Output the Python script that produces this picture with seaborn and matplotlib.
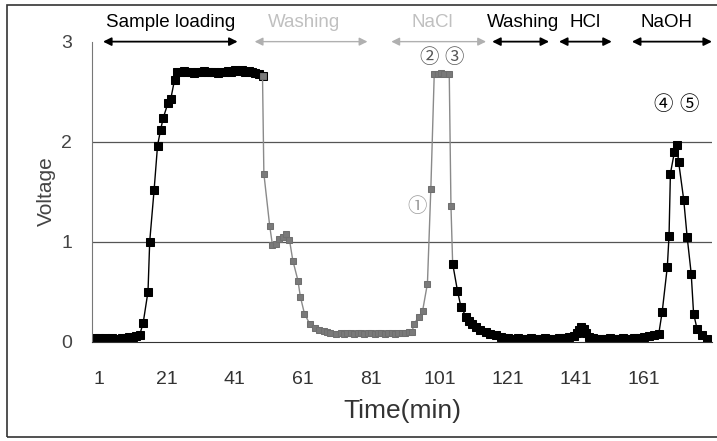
import matplotlib
matplotlib.use("Agg")
import matplotlib.pyplot as plt
import seaborn as sns
from matplotlib.patches import Rectangle

# sample loading (black)
time_load = [0, 1, 2, 3, 4, 5, 6, 7, 8, 9, 10, 11, 12, 13.1, 14.1, 15.5, 16.0, 17.3, 18.3, 19.2, 20.0,
             21.4, 22.2, 23.3, 24, 25, 26, 27, 28, 29, 30, 31, 32, 33, 34, 35, 36, 37, 38, 39, 40,
             41, 42, 43, 44, 45, 46, 47, 48, 49.1]
volt_load = [0.04, 0.04, 0.03, 0.04, 0.03, 0.04, 0.03, 0.03, 0.04, 0.04, 0.05, 0.05, 0.06, 0.07, 0.19,
             0.50, 1.00, 1.52, 1.96, 2.12, 2.24, 2.39, 2.43, 2.62, 2.70, 2.70, 2.71, 2.70, 2.70, 2.69,
             2.70, 2.70, 2.71, 2.70, 2.70, 2.70, 2.69, 2.70, 2.70, 2.71, 2.70, 2.72, 2.71, 2.72, 2.70,
             2.71, 2.70, 2.69, 2.68, 2.66]

# washing + NaCl (faded grey in the scan)
time_wash = [49.1, 49.5, 51.2, 52.0, 53.0, 54.0, 55.0, 56.0, 57.0, 58.0, 59.5, 60.2, 61.4, 62.9, 64.4,
             65.8, 67, 68, 69, 70.7, 72, 73, 74, 75, 76, 77, 78, 79, 80, 81, 82, 83, 84, 85, 86, 87,
             88, 89, 90, 91, 92, 93.0, 93.6, 95.1, 96.1, 97.5, 98.5, 99.5, 100.5, 101.5, 102.5,
             103.9, 104.4, 104.9]
volt_wash = [2.66, 1.68, 1.16, 0.97, 0.98, 1.03, 1.05, 1.08, 1.02, 0.81, 0.61, 0.45, 0.28, 0.18, 0.14,
             0.12, 0.11, 0.10, 0.09, 0.08, 0.09, 0.08, 0.09, 0.09, 0.08, 0.09, 0.09, 0.08, 0.09, 0.09,
             0.08, 0.09, 0.09, 0.08, 0.09, 0.09, 0.08, 0.09, 0.09, 0.09, 0.10, 0.10, 0.18, 0.25, 0.31,
             0.58, 1.53, 2.68, 2.68, 2.69, 2.68, 2.68, 1.36, 0.78]

# after NaCl: washing, HCl, NaOH (black)
time_elute = [104.9, 106.3, 107.3, 108.8, 109.8, 110.7, 111.7, 113, 114.6, 116, 117.5, 119, 120, 121,
              122, 123, 124, 125, 126, 127, 128, 129, 130, 131, 132, 133, 134, 135, 136, 137, 138,
              139, 140.5, 141.3, 142.0, 142.6, 143.3, 144.0, 145.0, 146, 147, 148, 149, 150, 151, 152,
              153, 154, 155, 156, 157, 158, 159, 160, 161, 162.5, 164, 165.4, 166.4, 167.9, 168.4,
              168.8, 170.0, 170.7, 171.2, 172.7, 173.7, 174.9, 175.6, 176.6, 178.1, 179.5]
volt_elute = [0.78, 0.51, 0.35, 0.25, 0.21, 0.18, 0.15, 0.12, 0.10, 0.08, 0.065, 0.05, 0.04, 0.04,
              0.03, 0.03, 0.04, 0.03, 0.03, 0.03, 0.04, 0.03, 0.03, 0.03, 0.04, 0.03, 0.03, 0.03,
              0.04, 0.04, 0.04, 0.05, 0.06, 0.09, 0.12, 0.15, 0.13, 0.09, 0.05, 0.04, 0.03, 0.03,
              0.03, 0.03, 0.04, 0.03, 0.03, 0.03, 0.04, 0.03, 0.03, 0.04, 0.04, 0.04, 0.05, 0.06,
              0.07, 0.08, 0.30, 0.75, 1.06, 1.68, 1.90, 1.97, 1.80, 1.42, 1.05, 0.68, 0.28, 0.13,
              0.065, 0.03]

xtick_pos = [1, 21, 41, 61, 81, 101, 121, 141, 161]

# stage labels along the top: (name, start, end, text centre, faded)
stages = [("Sample loading", 2.3, 41.8, 22.2, False),
          ("Washing", 46.8, 79.9, 61.4, True),
          ("NaCl", 86.9, 114.7, 98.9, True),
          ("Washing", 116.5, 133.2, 125.6, False),
          ("HCl", 136.1, 151.6, 143.7, False),
          ("NaOH", 157.5, 181.0, 167.8, False)]

# circled fraction numbers: (label, time, voltage, colour)
fractions = [("\u2460", 94.5, 1.35, "#999999"),
             ("\u2461", 98.0, 2.84, "#555555"),
             ("\u2462", 105.4, 2.84, "#555555"),
             ("\u2463", 166.6, 2.37, "black"),
             ("\u2464", 174.2, 2.37, "black")]

sns.set_style("white")
plt.rcParams["font.family"] = ["Liberation Sans", "DejaVu Sans", "Noto Sans CJK JP"]

fig = plt.figure(figsize=(7.17, 4.41), dpi=100)
ax = fig.add_axes([0.128, 0.2256, 0.865, 0.68])

ax.axhline(1, color="#555555", lw=0.9, zorder=1)
ax.axhline(2, color="#555555", lw=0.9, zorder=1)

sns.lineplot(x=time_load, y=volt_load, ax=ax, sort=False, color="black", lw=1.0,
             marker="s", markersize=5.5, markeredgecolor="black")
sns.lineplot(x=time_wash, y=volt_wash, ax=ax, sort=False, color="#8a8a8a", lw=1.0,
             marker="s", markersize=5, markeredgecolor="#6f6f6f", markerfacecolor="#7a7a7a")
sns.lineplot(x=time_elute, y=volt_elute, ax=ax, sort=False, color="black", lw=1.0,
             marker="s", markersize=5.5, markeredgecolor="black")

ax.set_xlim(-1, 181)
ax.set_ylim(0, 3)
ax.set_xticks(xtick_pos)
ax.set_yticks([0, 1, 2, 3])
ax.tick_params(axis="x", length=0, pad=21, labelsize=14, labelcolor="#333333")
ax.tick_params(axis="y", length=0, pad=14, labelsize=14, labelcolor="#444444")
ax.set_xlabel("Time(min)", fontsize=19, color="#333333", labelpad=8)
ax.set_ylabel("Voltage", fontsize=15, color="#444444", labelpad=4)

for side in ["top", "right"]:
    ax.spines[side].set_visible(False)
ax.spines["left"].set_color("#777777")
ax.spines["bottom"].set_color("#333333")

for name, start, end, mid, faded in stages:
    c = "#b0b0b0" if faded else "black"
    ax.annotate("", xy=(start, 3.0), xytext=(end, 3.0), annotation_clip=False,
                arrowprops=dict(arrowstyle="<|-|>", color=c, lw=1.3 if not faded else 1.0,
                                mutation_scale=12, shrinkA=0, shrinkB=0))
    ax.text(mid, 3.19, name, ha="center", va="center", fontsize=13.5,
            color="#c0c0c0" if faded else "black", clip_on=False)

for lab, t, v, c in fractions:
    ax.text(t, v, lab, ha="center", va="center", fontsize=14, color=c,
            family=["Noto Sans CJK JP", "DejaVu Sans"])

fig.add_artist(Rectangle((0.01, 0.01), 1.0, 0.978, transform=fig.transFigure,
                         fill=False, edgecolor="#333333", lw=1.2))

fig.savefig("out.png", dpi=100)
